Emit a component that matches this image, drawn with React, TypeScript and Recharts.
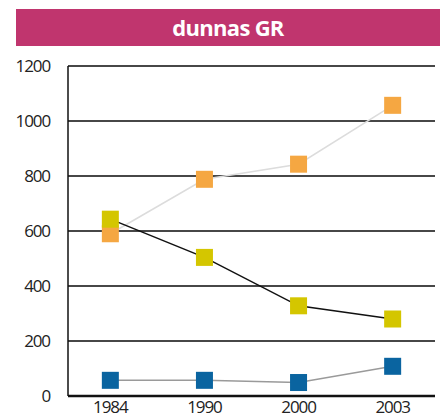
import { CartesianGrid, Line, LineChart, XAxis, YAxis } from 'recharts'

const YEARS = ['1984', '1990', '2000', '2003']
const ORANGE_VALUES = [590, 788, 843, 1057]
const YELLOW_VALUES = [643, 504, 328, 280]
const BLUE_VALUES = [57, 57, 49, 108]
const Y_TICKS = [0, 200, 400, 600, 800, 1000, 1200]

const ORANGE = '#f5a742'
const YELLOW = '#d4c600'
const BLUE = '#0a64a0'
const FONT = '"Open Sans", sans-serif'

// the original axis starts slightly inside the first category band
const X_DOMAIN: [number, number] = [0.05, 3.95]

const data = YEARS.map((year, i) => ({
  pos: i + 0.5,
  year,
  orange: ORANGE_VALUES[i],
  yellow: YELLOW_VALUES[i],
  blue: BLUE_VALUES[i],
}))

const tickStyle = { fill: '#222', fontSize: 17, fontFamily: FONT, letterSpacing: -1.1 }

function squareDot(color: string) {
  return (props: any) => {
    const { cx, cy, index } = props
    if (cx == null || cy == null) return <g key={index} />
    return <rect key={index} x={cx - 8.5} y={cy - 8.5} width={17} height={17} fill={color} />
  }
}

export default function App() {
  return (
    <div style={{ position: 'absolute', left: 0, top: 0, width: 445, height: 419, background: '#fff', fontFamily: FONT }}>
      <div
        style={{
          position: 'absolute',
          left: 16,
          top: 9,
          width: 424,
          height: 37,
          background: '#c0356e',
          color: '#fff',
          fontWeight: 'bold',
          fontSize: 22,
          letterSpacing: -0.7,
          lineHeight: '37px',
          textAlign: 'center',
        }}
      >
        dunnas GR
      </div>
      <div style={{ position: 'absolute', left: 0, top: 0 }}>
        <LineChart width={445} height={419} data={data} margin={{ top: 66, right: 10, left: 8, bottom: 0 }}>
          <CartesianGrid horizontal vertical={false} stroke="#474747" strokeWidth={2} />
          <XAxis
            xAxisId="grid"
            type="number"
            domain={X_DOMAIN}
            allowDataOverflow
            ticks={[1, 2, 3, 3.95]}
            mirror
            height={0}
            tick={false}
            tickSize={9}
            tickLine={{ stroke: '#222', strokeWidth: 1.5 }}
            axisLine={false}
          />
          <XAxis
            xAxisId="lbl"
            dataKey="pos"
            type="number"
            domain={X_DOMAIN}
            allowDataOverflow
            ticks={[0.5, 1.5, 2.5, 3.5]}
            tickFormatter={(v: number) => YEARS[Math.floor(v)]}
            height={23}
            tickSize={0}
            tickMargin={5}
            tickLine={false}
            axisLine={{ stroke: '#111', strokeWidth: 2.5 }}
            tick={tickStyle}
          />
          <YAxis
            domain={[0, 1200]}
            ticks={Y_TICKS}
            width={60}
            tickSize={0}
            tickMargin={18}
            tickLine={false}
            axisLine={{ stroke: '#111', strokeWidth: 1.5 }}
            tick={tickStyle}
          />
          <Line
            xAxisId="lbl"
            dataKey="blue"
            stroke="#9a9a9a"
            strokeWidth={1.5}
            dot={squareDot(BLUE)}
            activeDot={false}
            isAnimationActive={false}
          />
          <Line
            xAxisId="lbl"
            dataKey="orange"
            stroke="#dcdcdc"
            strokeWidth={1.5}
            dot={squareDot(ORANGE)}
            activeDot={false}
            isAnimationActive={false}
          />
          <Line
            xAxisId="lbl"
            dataKey="yellow"
            stroke="#111"
            strokeWidth={1.5}
            dot={squareDot(YELLOW)}
            activeDot={false}
            isAnimationActive={false}
          />
        </LineChart>
      </div>
    </div>
  )
}
